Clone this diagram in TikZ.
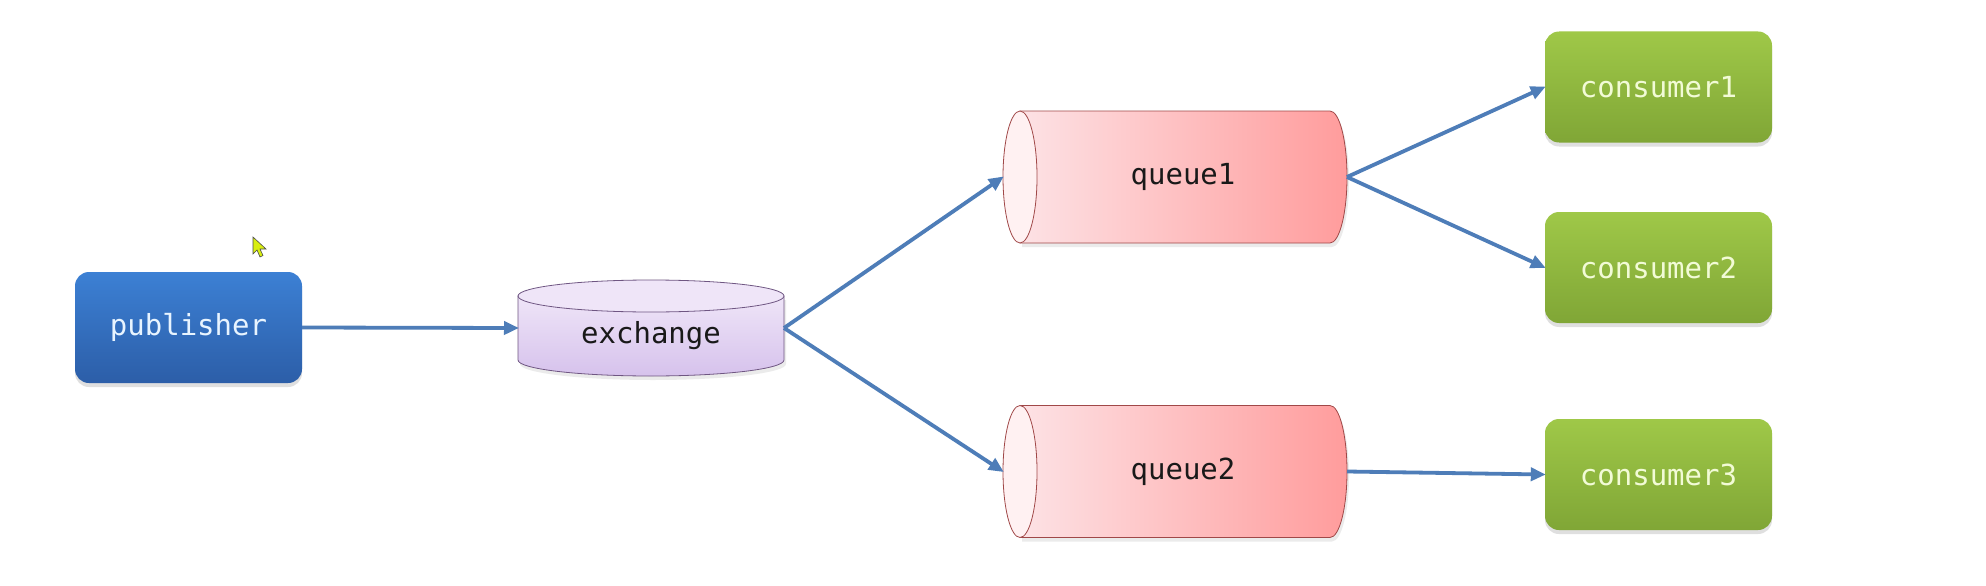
\documentclass[tikz,border=0pt]{standalone}
\usepackage{fontspec}
\setmonofont{DejaVu Sans Mono}
\usetikzlibrary{arrows.meta,shadows}
\definecolor{arrowblue}{HTML}{4E7DB8}
\definecolor{pubtop}{HTML}{3C80D4}
\definecolor{pubbot}{HTML}{2C5EA8}
\definecolor{pubtxt}{HTML}{E8F4FF}
\definecolor{contop}{HTML}{9FC848}
\definecolor{conbot}{HTML}{80A636}
\definecolor{contxt}{HTML}{F2FBD6}
\definecolor{extop}{HTML}{EFE5F8}
\definecolor{exbot}{HTML}{D6C2EC}
\definecolor{exline}{HTML}{6F5682}
\definecolor{qleft}{HTML}{FDE2E5}
\definecolor{qright}{HTML}{FF9C9C}
\definecolor{qline}{HTML}{A04848}
\definecolor{qface}{HTML}{FFF1F2}
\definecolor{cursorfill}{HTML}{D8EE10}
\tikzset{
  lbl/.style={font=\ttfamily\fontsize{29}{31}\selectfont, inner sep=0pt},
  box/.style={lbl, rounded corners=14pt, minimum width=227pt, minimum height=111pt,
    drop shadow={opacity=0.25, shadow xshift=0pt, shadow yshift=-4pt}},
  pubbox/.style={box, top color=pubtop, bottom color=pubbot, text=pubtxt},
  conbox/.style={box, top color=contop, bottom color=conbot, text=contxt},
  frame/.style={inner sep=0pt, outer sep=0pt},
  arr/.style={draw=arrowblue, line width=3.8pt, -{Triangle[length=15pt,width=13pt]}, shorten >=-1pt},
}
\begin{document}
\begin{tikzpicture}[x=1pt,y=-1pt]
\useasboundingbox[fill=white] (0,0) rectangle (1986,586);

% cursor
\filldraw[fill=cursorfill, draw=black!70, line width=0.6pt]
  (253,237) -- (253,254) -- (257,250) -- (260,257) -- (263,255.5) -- (260,249) -- (266,249) -- cycle;

% publisher
\node[pubbox] (pub) at (188.5,327.5) {publisher};

% exchange (vertical cylinder)
\node[frame, minimum width=266pt, minimum height=96pt] (ex) at (651,328) {};
\fill[black, opacity=0.08] (520,300) -- (520,364) arc (180:0:133 and 16) -- (786,300) -- cycle;
\path[top color=extop, bottom color=exbot, draw=exline, line width=0.8pt]
  (518,296) -- (518,360) arc (180:0:133 and 16) -- (784,296) -- cycle;
\filldraw[fill=extop, draw=exline, line width=0.8pt] (651,296) ellipse (133 and 16);
\node[lbl, text=black!90] at ([yshift=-8pt]ex.center) {exchange};

% queue1 (horizontal cylinder)
\node[frame, minimum width=344pt, minimum height=132pt] (q1) at (1175,177) {};
\fill[black, opacity=0.08] (1022,115) -- (1332,115) arc (-90:90:17 and 66) -- (1022,247) -- cycle;
\path[left color=qleft, right color=qright, draw=qline, line width=0.8pt]
  (1020,111) -- (1330,111) arc (-90:90:17 and 66) -- (1020,243) -- cycle;
\filldraw[fill=qface, draw=qline, line width=0.8pt] (1020,177) ellipse (17 and 66);
\node[lbl, text=black!90] at ([xshift=8pt]q1.center) {queue1};

% queue2 (horizontal cylinder)
\node[frame, minimum width=344pt, minimum height=132pt] (q2) at (1175,471.5) {};
\fill[black, opacity=0.08] (1022,409.5) -- (1332,409.5) arc (-90:90:17 and 66) -- (1022,541.5) -- cycle;
\path[left color=qleft, right color=qright, draw=qline, line width=0.8pt]
  (1020,405.5) -- (1330,405.5) arc (-90:90:17 and 66) -- (1020,537.5) -- cycle;
\filldraw[fill=qface, draw=qline, line width=0.8pt] (1020,471.5) ellipse (17 and 66);
\node[lbl, text=black!90] at ([xshift=8pt]q2.center) {queue2};

% consumers
\node[conbox] (c1) at (1658.5,87) {consumer1};
\node[conbox] (c2) at (1658.5,267.5) {consumer2};
\node[conbox] (c3) at (1658.5,474.5) {consumer3};

% connectors
\draw[arr] (pub.east) -- (ex.west);
\draw[arr] (ex.east) -- (q1.west);
\draw[arr] (ex.east) -- (q2.west);
\draw[arr] (q1.east) -- (c1.west);
\draw[arr] (q1.east) -- (c2.west);
\draw[arr] (q2.east) -- (c3.west);
\end{tikzpicture}
\end{document}
